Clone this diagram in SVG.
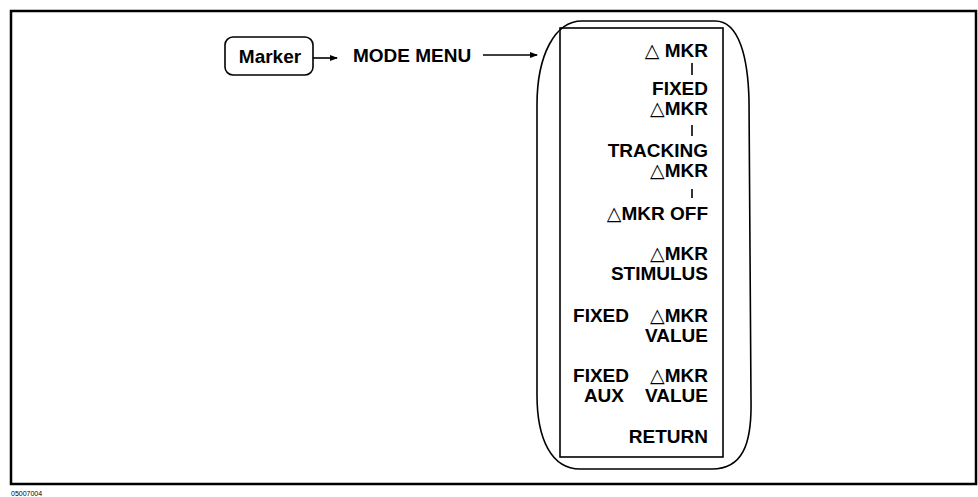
<svg xmlns="http://www.w3.org/2000/svg" width="978" height="497" viewBox="0 0 978 497">
<defs>
<style>
.t{font-family:"Liberation Sans",Arial,sans-serif;font-weight:bold;font-size:19px;fill:#000}
.m{text-anchor:end}
.d{font-family:"DejaVu Sans",sans-serif;font-weight:normal}
.ln{stroke:#000;stroke-width:1.6;fill:none}
</style>
<marker id="ah" markerWidth="8" markerHeight="6" refX="7" refY="3" orient="auto" markerUnits="userSpaceOnUse">
<path d="M0,0 L8,3 L0,6 Z" fill="#000"/>
</marker>
</defs>
<rect x="0" y="0" width="978" height="497" fill="#fff"/>
<rect x="11" y="11" width="965" height="473" fill="none" stroke="#000" stroke-width="2.5"/>
<text x="11" y="496" font-family="Liberation Sans,sans-serif" font-size="7" fill="#000">05007004</text>
<g id="marker-key">
<rect x="225" y="37" width="88" height="38" rx="8" class="ln"/>
<text x="270" y="63" class="t" font-size="20" text-anchor="middle">Marker</text>
</g>
<g id="mode-menu">
<text x="353" y="62" class="t" font-size="21">MODE MENU</text>
</g>
<g id="softkey-menu">
<path class="ln" d="M582,21 L715,21 C740,21 748,60 749,100 L751,400 C752,445 742,469 712,469 L580,469 C552,469 537,440 537,395 L537,105 C537,55 555,21 582,21 Z"/>
<rect x="560" y="28" width="163" height="429" class="ln" stroke-width="1.8"/>
<g class="t m">
<text x="708" y="57"><tspan class="d">△</tspan> MKR</text>
<text x="708" y="95">FIXED</text>
<text x="708" y="115"><tspan class="d">△</tspan>MKR</text>
<text x="708" y="157">TRACKING</text>
<text x="708" y="177"><tspan class="d">△</tspan>MKR</text>
<text x="708" y="220"><tspan class="d">△</tspan>MKR OFF</text>
<text x="708" y="260"><tspan class="d">△</tspan>MKR</text>
<text x="708" y="280">STIMULUS</text>
<text x="629" y="322">FIXED</text>
<text x="708" y="322"><tspan class="d">△</tspan>MKR</text>
<text x="708" y="342">VALUE</text>
<text x="629" y="382">FIXED</text>
<text x="708" y="382"><tspan class="d">△</tspan>MKR</text>
<text x="624" y="402">AUX</text>
<text x="708" y="402">VALUE</text>
<text x="708" y="443">RETURN</text>
</g>
</g>
<g id="connectors">
<line x1="313" y1="58" x2="337" y2="58" class="ln" marker-end="url(#ah)"/>
<line x1="483" y1="55" x2="537" y2="55" class="ln" marker-end="url(#ah)"/>
<line x1="692" y1="63" x2="692" y2="75" class="ln"/>
<line x1="692" y1="125" x2="692" y2="136" class="ln"/>
<line x1="692" y1="189" x2="692" y2="198" class="ln"/>
</g>
</svg>
